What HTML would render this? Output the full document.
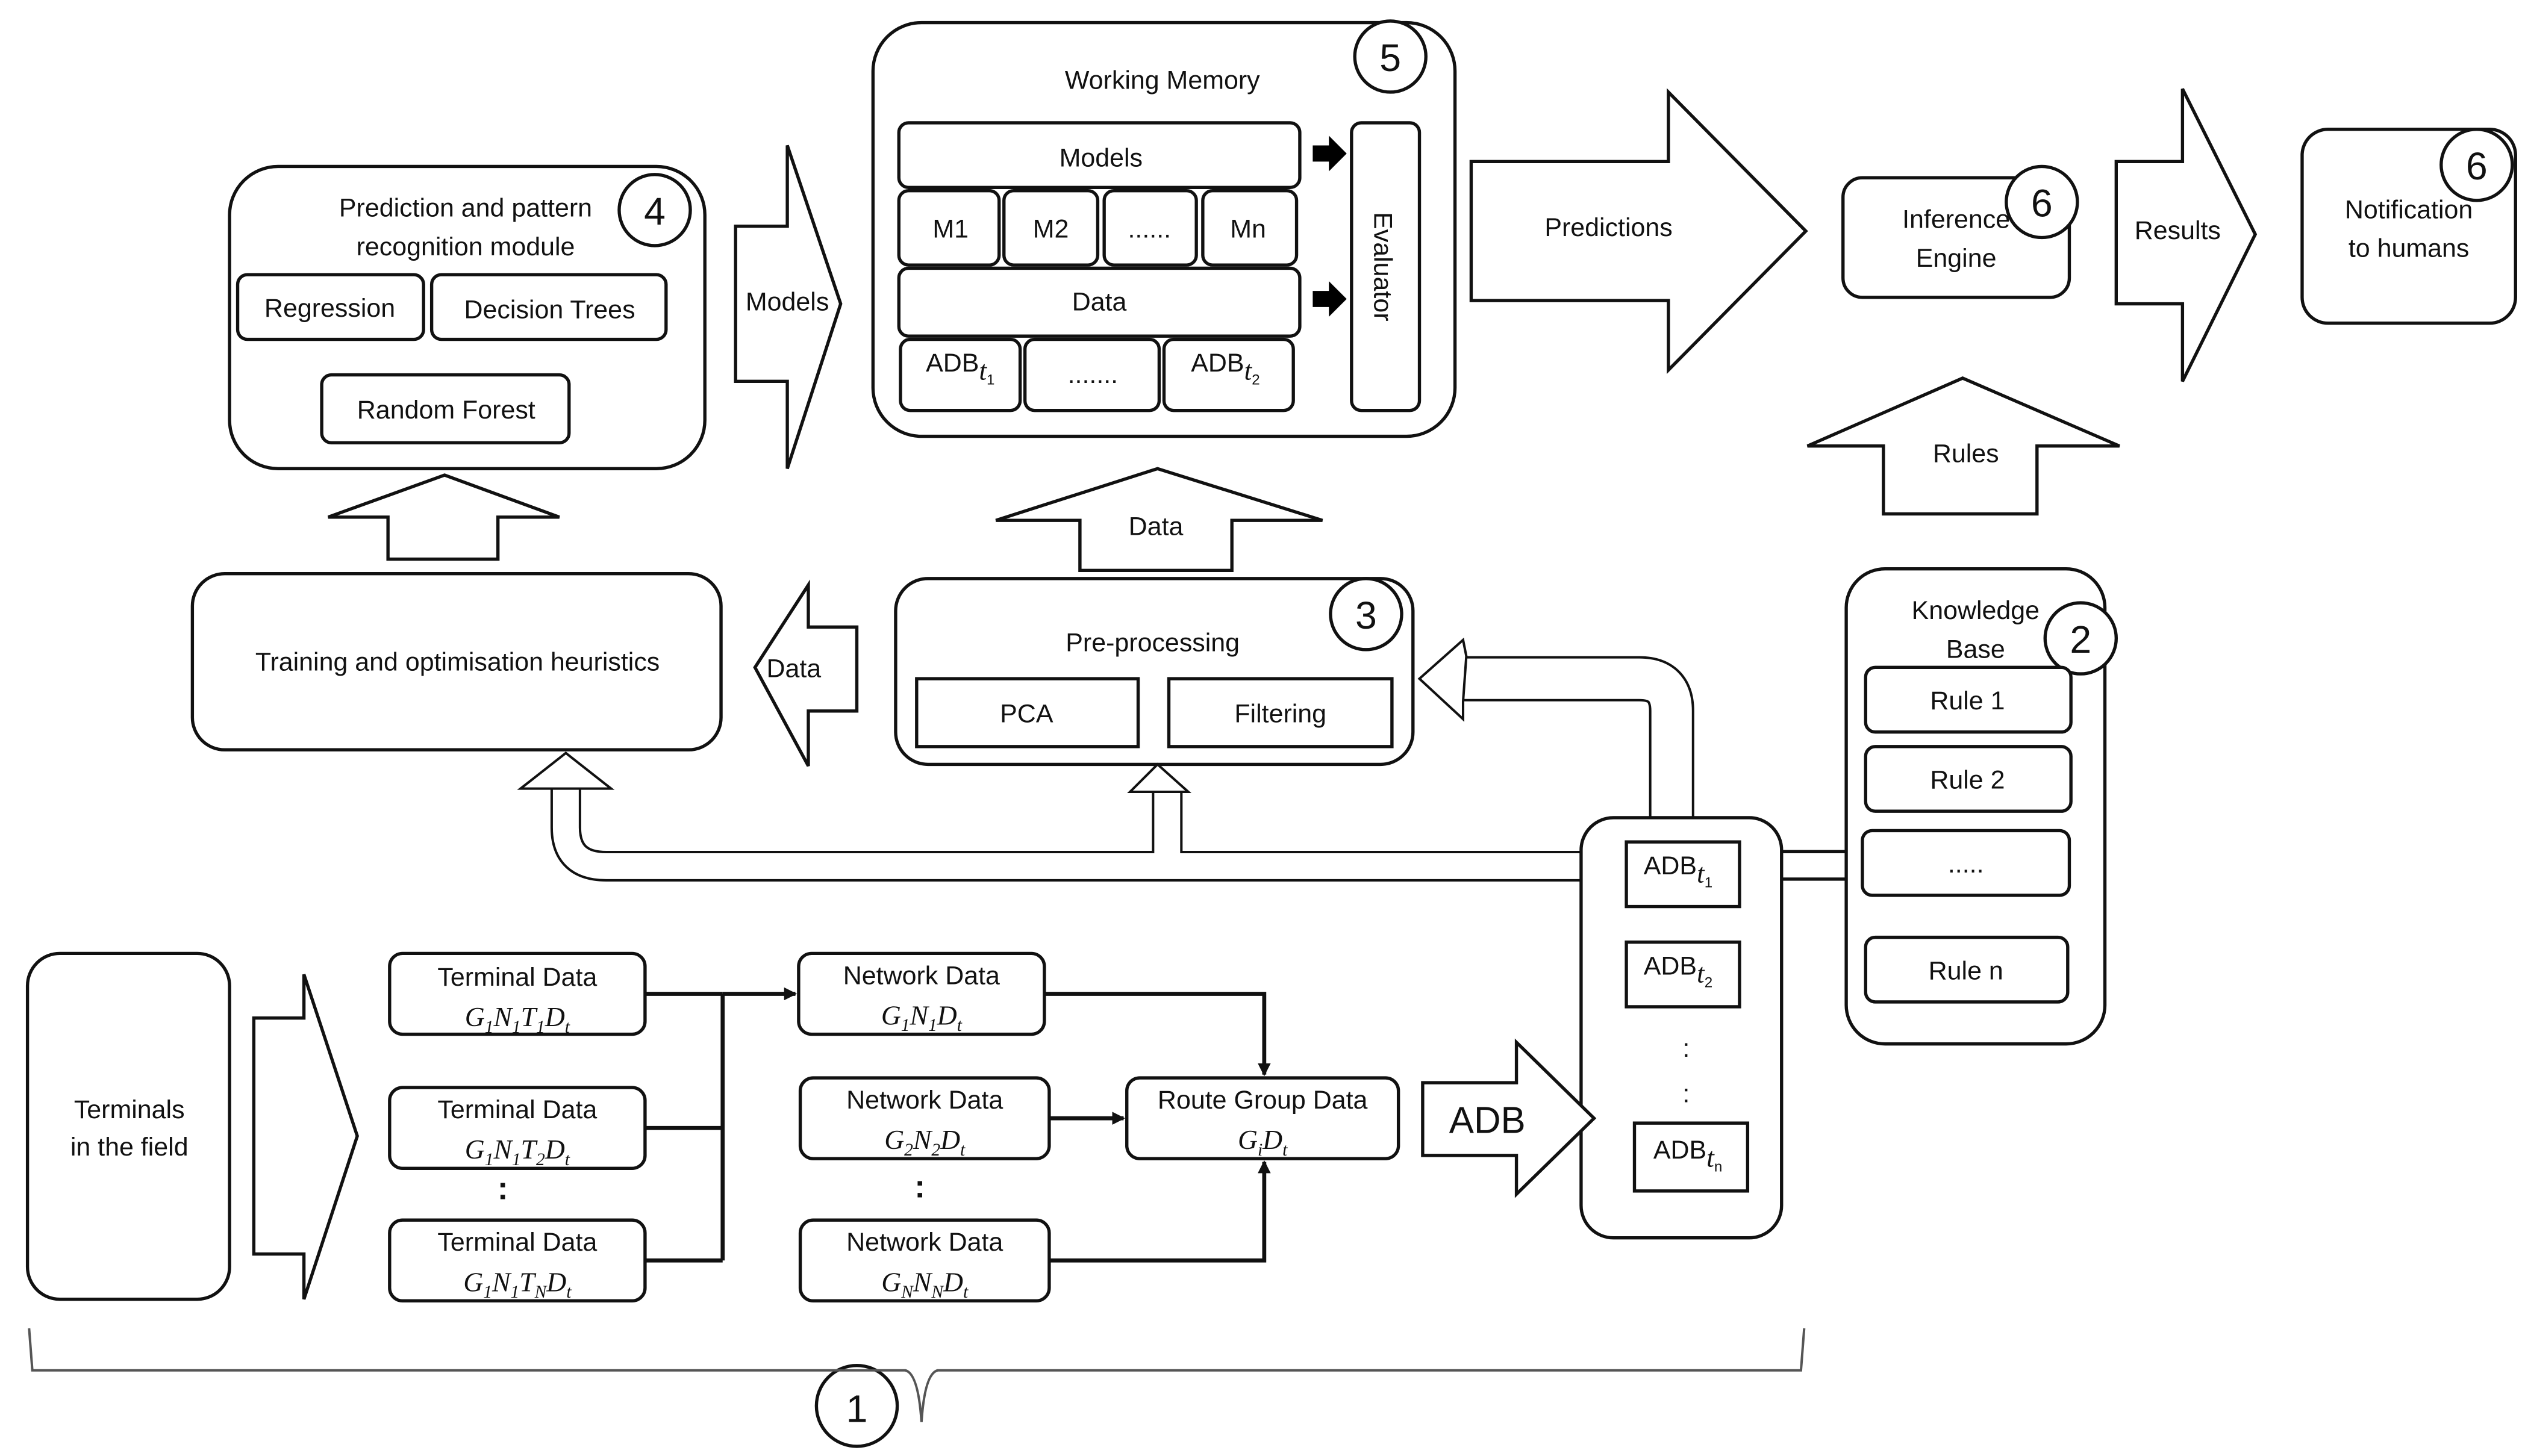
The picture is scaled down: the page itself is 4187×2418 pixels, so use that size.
<!DOCTYPE html>
<html><head><meta charset="utf-8">
<style>
html,body{margin:0;padding:0;background:#fff;}
svg{display:block;}
text{font-family:"Liberation Sans",sans-serif;font-size:16px;fill:#111;}
.m{font-family:"Liberation Serif",serif;font-style:italic;font-size:17px;}
</style></head><body>
<svg width="4187" height="2418" viewBox="0 0 1560 901" preserveAspectRatio="none" xmlns="http://www.w3.org/2000/svg">
<defs>
<marker id="ah" markerWidth="8" markerHeight="8" refX="7" refY="4" orient="auto" markerUnits="userSpaceOnUse"><path d="M0,0 L8,4 L0,8 z" fill="#111"/></marker>
</defs>
<g fill="#fff" stroke="#111" stroke-width="2">
<!-- Working memory -->
<rect x="540" y="14" width="360" height="256" rx="30"/>
<rect x="556" y="76" width="248" height="40" rx="6"/>
<rect x="556" y="118" width="62" height="46" rx="6"/>
<rect x="621" y="118" width="58" height="46" rx="6"/>
<rect x="683" y="118" width="57" height="46" rx="6"/>
<rect x="744" y="118" width="58" height="46" rx="6"/>
<rect x="556" y="166" width="248" height="42" rx="6"/>
<rect x="557" y="210" width="74" height="44" rx="6"/>
<rect x="634" y="210" width="83" height="44" rx="6"/>
<rect x="720" y="210" width="80" height="44" rx="6"/>
<rect x="836" y="76" width="42" height="178" rx="6"/>
<circle cx="860" cy="35" r="22"/>
<!-- Prediction module -->
<rect x="142" y="103" width="294" height="187" rx="30"/>
<circle cx="405" cy="130" r="22"/>
<rect x="147" y="170" width="115" height="40" rx="6"/>
<rect x="267" y="170" width="145" height="40" rx="6"/>
<rect x="199" y="232" width="153" height="42" rx="6"/>
<polygon points="455,140 487,140 487,90 520,188 487,290 487,236 455,236"/>
<!-- Training -->
<rect x="119" y="355" width="327" height="109" rx="20"/>
<polygon points="240,346 240,320 203,320 275,294 346,320 308,320 308,346"/>
<polygon points="530,388 500,388 500,362 467,413 500,474 500,440 530,440"/>
<!-- Pre-processing -->
<rect x="554" y="358" width="320" height="115" rx="20"/>
<circle cx="845" cy="380" r="22"/>
<rect x="567" y="420" width="137" height="42"/>
<rect x="723" y="420" width="138" height="42"/>
<polygon points="668,353 668,322 616,322 716,290 818,322 762,322 762,353"/>
<!-- Predictions -->
<polygon points="910,100 1032,100 1032,57 1117,143 1032,229 1032,186 910,186"/>
<rect x="1140" y="110" width="140" height="74" rx="12"/>
<circle cx="1263" cy="125" r="22"/>
<polygon points="1309,100 1350,100 1350,55 1395,145 1350,236 1350,188 1309,188"/>
<rect x="1424" y="80" width="132" height="120" rx="16"/>
<circle cx="1532" cy="102" r="22"/>
<polygon points="1165,318 1165,276 1118,276 1214,234 1311,276 1260,276 1260,318"/>
<!-- Knowledge base -->
<line x1="1102" y1="527" x2="1142" y2="527"/>
<line x1="1102" y1="544" x2="1142" y2="544"/>
<rect x="1142" y="352" width="160" height="294" rx="24"/>
<circle cx="1287" cy="395" r="22"/>
<rect x="1154" y="413" width="127" height="40" rx="6"/>
<rect x="1154" y="462" width="127" height="40" rx="6"/>
<rect x="1152" y="514" width="128" height="40" rx="6"/>
<rect x="1154" y="580" width="125" height="40" rx="6"/>
</g>
<!-- pipes -->
<g fill="none" stroke-linejoin="round">
<path d="M1034,506 L1034,440 Q1034,420 1014,420 L900,420" stroke="#111" stroke-width="28"/>
<path d="M1034,508 L1034,440 Q1034,420 1014,420 L898,420" stroke="#fff" stroke-width="25"/>
<path d="M980,536 L375,536 Q350,536 350,512 L350,486 M722,536 L722,488" stroke="#111" stroke-width="19"/>
<path d="M982,536 L375,536 Q350,536 350,512 L350,484 M722,538 L722,486" stroke="#fff" stroke-width="16"/>
</g>
<g fill="#fff" stroke="#111" stroke-width="1.5">
<polygon points="905,396 878,420 905,445 905,434 907,406"/>
<polygon points="322,488 350,466 378,488"/>
<polygon points="699,490 716,473 735,490"/>
</g>
<g fill="#fff" stroke="#111" stroke-width="2">
<rect x="978" y="506" width="124" height="260" rx="20"/>
<rect x="1006" y="521" width="70" height="40"/>
<rect x="1006" y="583" width="70" height="40"/>
<rect x="1011" y="695" width="70" height="42"/>
<!-- bottom -->
<rect x="17" y="590" width="125" height="214" rx="20"/>
<polygon points="157,630 188,630 188,603 221,703 188,804 188,776 157,776"/>
<rect x="241" y="590" width="158" height="50" rx="8"/>
<rect x="241" y="673" width="158" height="50" rx="8"/>
<rect x="241" y="755" width="158" height="50" rx="8"/>
<rect x="494" y="590" width="152" height="50" rx="8"/>
<rect x="495" y="667" width="154" height="50" rx="8"/>
<rect x="495" y="755" width="154" height="50" rx="8"/>
<rect x="697" y="667" width="168" height="50" rx="8"/>
<polygon points="880,670 938,670 938,645 986,692 938,739 938,715 880,715"/>
<circle cx="530" cy="870" r="25"/>
</g>
<g fill="none" stroke="#111" stroke-width="2.5">
<path d="M399,615 L447,615 M399,698 L447,698 M399,780 L447,780 M447,615 L447,780"/>
<path d="M447,615 L492,615" marker-end="url(#ah)"/>
<path d="M646,615 L782,615 L782,665" marker-end="url(#ah)"/>
<path d="M649,692 L695,692" marker-end="url(#ah)"/>
<path d="M649,780 L782,780 L782,719" marker-end="url(#ah)"/>
</g>
<path d="M18,822 L20,848 L560,848 Q568,850 570,880 Q572,850 580,848 L1114,848 L1116,822" fill="none" stroke="#555" stroke-width="1.5"/>
<!-- small black arrows -->
<polygon points="812,90 822,90 822,84 833,95 822,106 822,100 812,100" fill="#000"/>
<polygon points="812,180 822,180 822,174 833,185 822,196 822,190 812,190" fill="#000"/>
<!-- text -->
<g text-anchor="middle">
<text x="719" y="55">Working Memory</text>
<text x="860" y="44" style="font-size:24px">5</text>
<text x="681" y="103">Models</text>
<text x="588" y="147">M1</text>
<text x="650" y="147">M2</text>
<text x="711" y="147">......</text>
<text x="772" y="147">Mn</text>
<text x="680" y="192">Data</text>
<text x="594" y="230">ADB<tspan class="m" font-size="12" dy="5">t</tspan><tspan font-size="9" dy="3">1</tspan></text>
<text x="676" y="237">.......</text>
<text x="758" y="230">ADB<tspan class="m" font-size="12" dy="5">t</tspan><tspan font-size="9" dy="3">2</tspan></text>
<text transform="translate(850,165) rotate(90)">Evaluator</text>
<text x="288" y="134">Prediction and pattern</text>
<text x="288" y="158">recognition module</text>
<text x="405" y="139" style="font-size:24px">4</text>
<text x="204" y="196">Regression</text>
<text x="340" y="197">Decision Trees</text>
<text x="276" y="259">Random Forest</text>
<text x="487" y="192">Models</text>
<text x="283" y="415">Training and optimisation heuristics</text>
<text x="491" y="419">Data</text>
<text x="713" y="403">Pre-processing</text>
<text x="845" y="389" style="font-size:24px">3</text>
<text x="635" y="447">PCA</text>
<text x="792" y="447">Filtering</text>
<text x="715" y="331">Data</text>
<text x="995" y="146">Predictions</text>
<text x="1210" y="141">Inference</text>
<text x="1210" y="165">Engine</text>
<text x="1263" y="134" style="font-size:24px">6</text>
<text x="1347" y="148">Results</text>
<text x="1490" y="135">Notification</text>
<text x="1490" y="159">to humans</text>
<text x="1532" y="111" style="font-size:24px">6</text>
<text x="1216" y="286">Rules</text>
<text x="1222" y="383">Knowledge</text>
<text x="1222" y="407">Base</text>
<text x="1287" y="404" style="font-size:24px">2</text>
<text x="1217" y="439">Rule 1</text>
<text x="1217" y="488">Rule 2</text>
<text x="1216" y="540">.....</text>
<text x="1216" y="606">Rule n</text>
<text x="1038" y="541">ADB<tspan class="m" font-size="12" dy="5">t</tspan><tspan font-size="9" dy="3">1</tspan></text>
<text x="1038" y="603">ADB<tspan class="m" font-size="12" dy="5">t</tspan><tspan font-size="9" dy="3">2</tspan></text>
<text x="1043" y="654">:</text>
<text x="1043" y="682">:</text>
<text x="1044" y="717">ADB<tspan class="m" font-size="12" dy="5">t</tspan><tspan font-size="9" dy="3">n</tspan></text>
<text x="80" y="692">Terminals</text>
<text x="80" y="715">in the field</text>
<text x="320" y="610">Terminal Data</text>
<text x="320" y="635" class="m">G<tspan font-size="11" dy="4">1</tspan><tspan dy="-4">N</tspan><tspan font-size="11" dy="4">1</tspan><tspan dy="-4">T</tspan><tspan font-size="11" dy="4">1</tspan><tspan dy="-4">D</tspan><tspan font-size="11" dy="4">t</tspan></text>
<text x="320" y="692">Terminal Data</text>
<text x="320" y="717" class="m">G<tspan font-size="11" dy="4">1</tspan><tspan dy="-4">N</tspan><tspan font-size="11" dy="4">1</tspan><tspan dy="-4">T</tspan><tspan font-size="11" dy="4">2</tspan><tspan dy="-4">D</tspan><tspan font-size="11" dy="4">t</tspan></text>
<text x="311" y="742" style="font-size:20px;font-weight:bold">:</text>
<text x="320" y="774">Terminal Data</text>
<text x="320" y="799" class="m">G<tspan font-size="11" dy="4">1</tspan><tspan dy="-4">N</tspan><tspan font-size="11" dy="4">1</tspan><tspan dy="-4">T</tspan><tspan font-size="11" dy="4">N</tspan><tspan dy="-4">D</tspan><tspan font-size="11" dy="4">t</tspan></text>
<text x="570" y="609">Network Data</text>
<text x="570" y="634" class="m">G<tspan font-size="11" dy="4">1</tspan><tspan dy="-4">N</tspan><tspan font-size="11" dy="4">1</tspan><tspan dy="-4">D</tspan><tspan font-size="11" dy="4">t</tspan></text>
<text x="572" y="686">Network Data</text>
<text x="572" y="711" class="m">G<tspan font-size="11" dy="4">2</tspan><tspan dy="-4">N</tspan><tspan font-size="11" dy="4">2</tspan><tspan dy="-4">D</tspan><tspan font-size="11" dy="4">t</tspan></text>
<text x="569" y="741" style="font-size:20px;font-weight:bold">:</text>
<text x="572" y="774">Network Data</text>
<text x="572" y="799" class="m">G<tspan font-size="11" dy="4">N</tspan><tspan dy="-4">N</tspan><tspan font-size="11" dy="4">N</tspan><tspan dy="-4">D</tspan><tspan font-size="11" dy="4">t</tspan></text>
<text x="781" y="686">Route Group Data</text>
<text x="781" y="711" class="m">G<tspan font-size="11" dy="4">i</tspan><tspan dy="-4">D</tspan><tspan font-size="11" dy="4">t</tspan></text>
<text x="920" y="701" style="font-size:23px">ADB</text>
<text x="530" y="880" style="font-size:24px">1</text>
</g>
</svg>
</body></html>
